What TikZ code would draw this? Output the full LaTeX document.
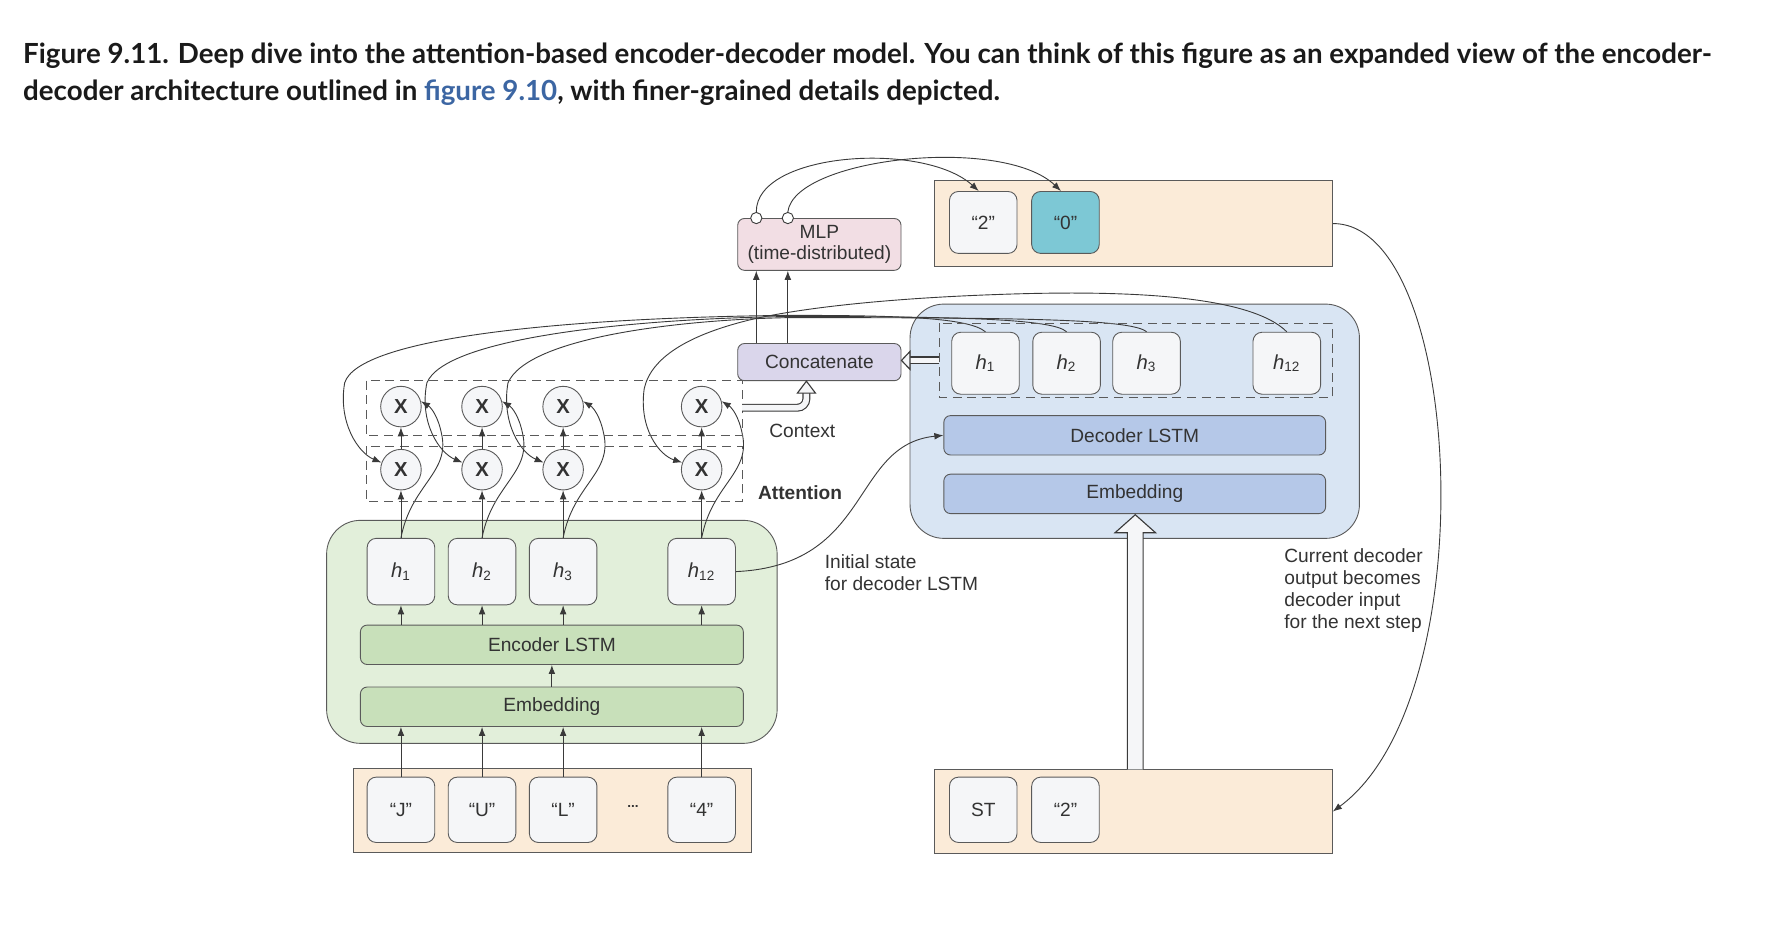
\documentclass[tikz,border=0pt]{standalone}
\usepackage{fontspec}
\setmainfont{Liberation Sans}
\newfontfamily\capfont{Lato}
\usepackage{xcolor}
\usetikzlibrary{arrows.meta}

\definecolor{tanfill}{HTML}{FBEBD8}
\definecolor{encbg}{HTML}{E2EFDA}
\definecolor{encbarfill}{HTML}{C8E0BA}
\definecolor{decbg}{HTML}{D9E5F3}
\definecolor{decbarfill}{HTML}{B5C8E8}
\definecolor{mlpfill}{HTML}{F2DEE4}
\definecolor{concatfill}{HTML}{DAD6EB}
\definecolor{cyanfill}{HTML}{7DC8D5}
\definecolor{cellfill}{HTML}{F5F6F8}
\definecolor{edgegray}{HTML}{5A5A5A}
\definecolor{linegray}{HTML}{3A3A3A}
\definecolor{inkgray}{HTML}{333333}
\definecolor{capblack}{HTML}{1A1A1A}
\definecolor{linkblue}{HTML}{3C66A3}

\newcommand{\hvec}[1]{\textit{h}\textsubscript{#1}}

\pgfdeclarelayer{panels}
\pgfdeclarelayer{wires}
\pgfsetlayers{panels,wires,main}

\begin{document}
\begin{tikzpicture}[
		x=0.5pt, y=-0.5pt,
		line width=0.6pt,
		every node/.style={font=\fontsize{8.5}{9.7}\selectfont, text=inkgray},
		caption/.style={anchor=base west, inner sep=0pt, text=capblack, font=\capfont\bfseries\fontsize{12.3}{15}\selectfont},
		arr/.style={draw=linegray, -{Latex[length=4pt,width=3pt]}},
		cell/.style={draw=edgegray, fill=cellfill, rounded corners=4pt, minimum width=30pt, minimum height=28pt, inner sep=0pt},
		encbar/.style={draw=edgegray, fill=encbarfill, rounded corners=3pt, minimum width=170pt, minimum height=17.5pt, inner sep=0pt},
		decbar/.style={draw=edgegray, fill=decbarfill, rounded corners=3pt, minimum width=169.5pt, minimum height=17.5pt, inner sep=0pt},
		panel/.style={draw=edgegray, rounded corners=15pt, inner sep=0pt},
		tray/.style={draw=edgegray, fill=tanfill, minimum width=176.5pt, inner sep=0pt},
		mult/.style={circle, draw=edgegray, fill=cellfill, minimum size=18pt, inner sep=0pt, font=\fontsize{9}{9}\selectfont\bfseries},
		attnbox/.style={draw=edgegray, dash pattern=on 4pt off 2.5pt},
		hollow/.style={draw=linegray, line width=0.5pt, fill=cellfill},
		hollowline/.style={draw=linegray, line width=0.5pt, double=cellfill, double distance=2.5pt}
		]
	
	\useasboundingbox (0,0) rectangle (1568,836);
	
	% Caption
	\node[caption] (cap1) at (20,56) {Figure 9.11. Deep dive into the attention-based encoder-decoder model. You can think of this figure as an expanded view of the encoder-};
	\node[caption] (cap2) at (20,89) {decoder architecture outlined in \textcolor{linkblue}{figure 9.10}, with finer-grained details depicted.};
	
	% Panels
	\begin{pgfonlayer}{panels}
		\fill[white] (0,0) rectangle (1568,836);
		\node[panel, fill=encbg, minimum width=200pt, minimum height=99pt] (encpanel) at (490,561) {};
		\node[panel, fill=decbg, minimum width=199.5pt, minimum height=104pt] (decpanel) at (1007.5,374) {};
	\end{pgfonlayer}
	
	% Trays
	\node[tray, minimum height=37.5pt] (enctray) at (490.5,719.5) {};
	\node[tray, minimum height=37.5pt] (dectray) at (1006.5,720.5) {};
	\node[tray, minimum height=38.5pt] (outtray) at (1006.5,198.5) {};
	
	% Encoder
	\node[encbar] (enclstm) at (490,572.5) {Encoder LSTM};
	\node[encbar] (encemb) at (490,627.5) {Embedding};
	\draw[arr] (encemb.north) -- (enclstm.south);
	
	\foreach \x/\i/\s in {356/1/1, 428/2/2, 500/3/3, 623/4/12}{
		\node[cell, minimum height=29.5pt] (eh\i) at (\x,507.5) {\fontsize{9}{10}\selectfont\hvec{\s}};
		\draw[arr] (eh\i.south |- enclstm.north) -- (eh\i.south);
	}
	
	\foreach \x/\i/\s in {356/1/“J”, 428/2/“U”, 500/3/“L”, 623/4/“4”}{
		\node[cell, minimum height=29pt] (in\i) at (\x,719) {\s};
		\draw[arr] (in\i.north) -- (in\i.north |- encemb.south);
	}
	\node (indots) at (562,716) {\fontsize{6}{7}\selectfont\textbf{...}};
	
	% Attention
	\draw[attnbox] (325,338) rectangle (659,387);
	\draw[attnbox] (325,396) rectangle (659,445);
	\node[anchor=west] (attnlabel) at (666,437) {\bfseries Attention};
	\node[anchor=west] (ctxlabel) at (676,383) {Context};
	
	\foreach \x/\i in {356/1, 428/2, 500/3, 623/4}{
		\node[mult] (el\i) at (\x,417) {X};
		\node[mult] (eu\i) at (\x,361) {X};
		\draw[arr] (eh\i.north) -- (el\i.south);
		\draw[arr] (el\i.north) -- (eu\i.south);
		\begin{pgfonlayer}{wires}
			\draw[arr] (eh\i.north) .. controls (\x+9,430) and (\x+44,420) .. (\x+36,385) .. controls (\x+33,370) and (\x+27,362) .. (eu\i.15);
		\end{pgfonlayer}
	}
	
	% Decoder
	\draw[attnbox] (834,287) rectangle (1183,353);
	\foreach \x/\i/\s in {875/1/1, 947/2/2, 1018/3/3, 1142.5/4/12}{
		\node[cell, minimum height=27.5pt] (dh\i) at (\x,322.5) {\fontsize{9}{10}\selectfont\hvec{\s}};
	}
	\node[decbar] (declstm) at (1007.5,386.5) {Decoder LSTM};
	\node[decbar] (decemb) at (1007.5,438.5) {Embedding};
	
	\node[cell, minimum height=29pt] (dinst) at (873,719) {ST};
	\node[cell, minimum height=29pt] (dintwo) at (946,719) {“2”};
	\node[cell, minimum height=27.5pt] (outtwo) at (873,197.5) {“2”};
	\node[cell, minimum height=27.5pt, fill=cyanfill] (outzero) at (946,197.5) {“0”};
	
	% Concatenate and MLP
	\node[draw=edgegray, fill=concatfill, rounded corners=3pt, minimum width=72.5pt, minimum height=16.5pt, inner sep=0pt] (concat) at (727.5,321.5) {Concatenate};
	\node[draw=edgegray, fill=mlpfill, rounded corners=3pt, minimum width=72.5pt, minimum height=23pt, inner sep=0pt, align=center] (mlp) at (727.5,217) {MLP\\(time-distributed)};
	\node[circle, draw=linegray, fill=white, minimum size=5pt, inner sep=0pt] (mlpo1) at ([xshift=-28pt]mlp.north) {};
	\node[circle, draw=linegray, fill=white, minimum size=5pt, inner sep=0pt] (mlpo2) at ([xshift=-14pt]mlp.north) {};
	\draw[arr] ([xshift=-28pt]concat.north) -- ([xshift=-28pt]mlp.south);
	\draw[arr] ([xshift=-14pt]concat.north) -- ([xshift=-14pt]mlp.south);
	\draw[arr] (mlpo1.north) .. controls (671,135) and (820,125) .. ([xshift=-2pt]outtwo.north);
	\draw[arr] (mlpo2.north) .. controls (705,140) and (890,120) .. ([xshift=-2pt]outzero.north);
	
	% Hollow arrows
	\coordinate (ctxfrom) at (659,362);
	\draw[hollowline, rounded corners=4pt] (ctxfrom) -- (716,362) -- (716,349);
	\filldraw[hollow] (708,349) -- (724,349) -- (concat.south -| 716,0) -- cycle;
	\coordinate (catfrom) at (834,320);
	\draw[hollowline] (catfrom) -- (808,320);
	\filldraw[hollow] (808,312) -- (808,328) -- (concat.east |- 0,320) -- cycle;
	\filldraw[hollow] (1001,683) -- (1001,473) -- (990,473) -- (1008,457) -- (1026,473) -- (1015,473) -- (1015,683);
	
	% Labels
	\node[anchor=north west, align=left, inner sep=0pt] (initlabel) at (732,492) {Initial state\\for decoder LSTM};
	\node[anchor=north west, align=left, inner sep=0pt] (nextlabel) at (1140,487) {Current decoder\\output becomes\\decoder input\\for the next step};
	
	% Wires
	\begin{pgfonlayer}{wires}
		\draw[arr] (dh1.north) .. controls (860,282) and (800,280) .. (700,280) .. controls (500,282) and (318,300) .. (306,340) .. controls (300,375) and (318,402) .. (el1.160);
		\draw[arr] (dh2.north) .. controls (935,283) and (850,281) .. (700,281) .. controls (560,283) and (395,300) .. (379,340) .. controls (372,375) and (390,402) .. (el2.160);
		\draw[arr] (dh3.north) .. controls (1005,283) and (900,282) .. (700,282) .. controls (600,284) and (468,300) .. (451,340) .. controls (445,375) and (462,402) .. (el3.160);
		\draw[arr] (dh4.north) .. controls (1110,262) and (1000,258) .. (900,261) .. controls (800,264) and (720,272) .. (670,283) .. controls (610,297) and (578,318) .. (572,345) .. controls (567,380) and (585,404) .. (el4.160);
		\draw[arr] (eh4.east) .. controls (775,502) and (755,395) .. (declstm.west);
		\draw[arr] (outtray.east) .. controls (1300,198) and (1320,620) .. (dectray.east);
	\end{pgfonlayer}
	
\end{tikzpicture}
\end{document}
